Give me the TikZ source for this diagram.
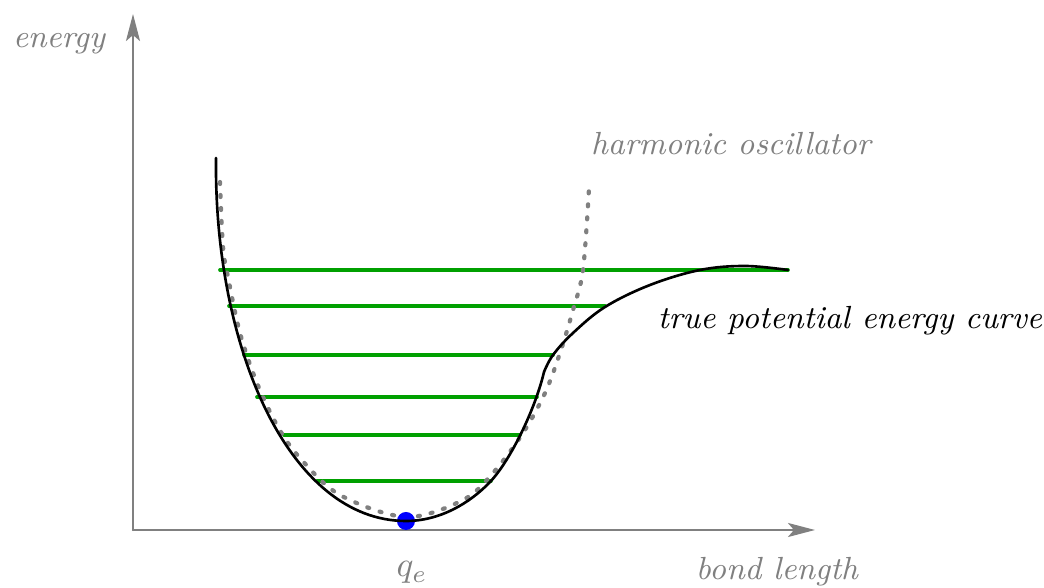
\documentclass[tikz,border=0pt]{standalone}
\usepackage{fontspec}
\usetikzlibrary{arrows.meta}
\definecolor{axisgray}{RGB}{128,128,128}
\definecolor{levelgreen}{RGB}{0,160,0}
\tikzset{
  axis/.style={->, axisgray, line width=0.7pt},
  level/.style={levelgreen, line width=1.05pt},
  harmonic/.style={axisgray, line width=1.2pt, dash pattern=on 0.02cm off 0.11cm},
  morse/.style={black, line width=0.75pt},
  label/.style={font=\fontsize{9.1}{11}\selectfont\itshape, axisgray, anchor=base}
}
\begin{document}
\begin{tikzpicture}[x=0.01cm, y=-0.01cm, line join=round, line cap=round,
  >={Stealth[length=2.7mm, width=1.4mm, inset=0.6mm]}]
\useasboundingbox (0,0) rectangle (1044,588);
% Axes
\coordinate (O) at (133,530);
\coordinate (ytip) at (133,14);
\coordinate (xtip) at (815,530);
\draw[axis] (O) -- (ytip);
\draw[axis] (O) -- (xtip);
\node[label] (energy) at (59,48) {energy};
\node[label] (bond) at (777,580) {bond length};
\node[label, font=\normalfont] (qe) at (412,577) {$q_e$};

% Vibrational levels
\foreach \y/\xl/\xr in {270/220/788, 306/229/605, 355/244/553, 397/257/537, 435/284/520, 481/317/491}
  \draw[level] (\xl,\y) -- (\xr,\y);

% Harmonic oscillator
\draw[harmonic] plot[smooth, tension=0.55] coordinates {(220,182) (223,247) (228,277) (240,333) (257,383)
  (278,427) (300,458) (340,495) (406,517) (463,500) (493,473) (523,433) (545,393) (560,353) (573,310)
  (583,270) (589,189)};
\node[label] (harm) at (731,155) {harmonic oscillator};

% Equilibrium point
\node[circle, fill=blue, inner sep=0pt, minimum size=1.8mm] (eq) at (406,521) {};

% True potential energy curve
\draw[morse] (216,158) .. controls (214,350) and (290,521) .. (406,521)
  .. controls (440,521) and (470,503) .. (490,482)
  .. controls (510,461) and (535,410) .. (544,372);
\draw[morse] plot[smooth, tension=0.6] coordinates {(544,372) (553,355) (573,333) (605,307) (650,285)
  (700,270) (745,266) (788,270)};
\node[label, black] (morse) at (850,329) {true potential energy curve};
\end{tikzpicture}
\end{document}
